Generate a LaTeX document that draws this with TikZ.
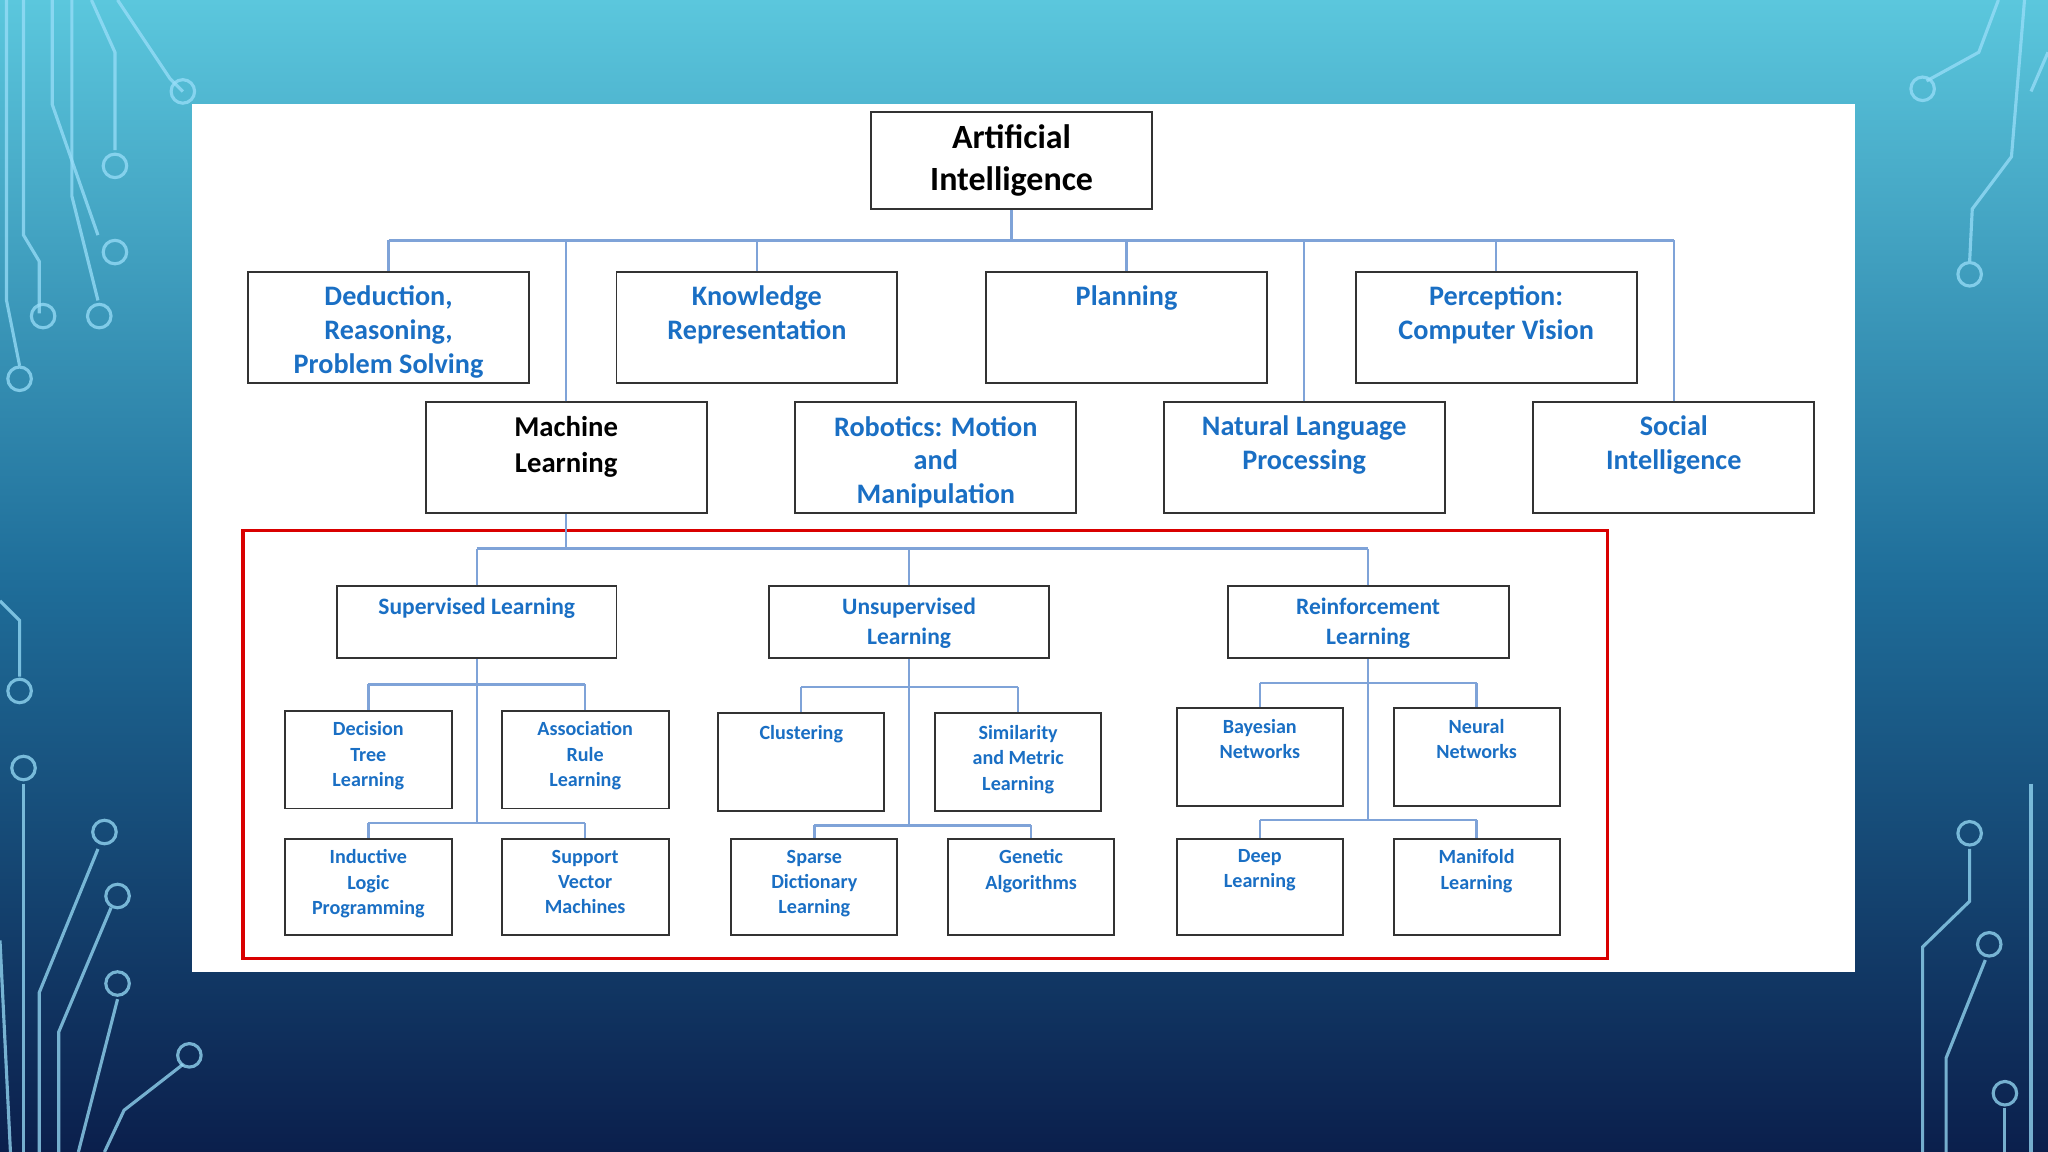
\documentclass[tikz,border=0pt]{standalone}
\usepackage{fontspec}
\setmainfont{Carlito}
\begin{document}
\begin{tikzpicture}[x=0.5pt,y=-0.5pt,
  box/.style={draw=black!80,line width=0.75pt,fill=white,inner sep=0pt},
  con/.style={draw=lnc,line width=0.9pt},
  ckt/.style={draw=cyan!40!white,line width=1.2pt,opacity=0.75},
  dot/.style={ckt,fill=none},
  tA/.style={font=\bfseries\fontsize{13}{16}\selectfont,align=center,inner sep=0pt},
  tB/.style={font=\bfseries\fontsize{10.8}{13}\selectfont,align=center,inner sep=0pt,text=txb},
  tM/.style={font=\bfseries\fontsize{11}{14}\selectfont,align=center,inner sep=0pt},
  tC/.style={font=\bfseries\fontsize{9}{11.5}\selectfont,align=center,inner sep=0pt,text=txb},
  tD/.style={font=\bfseries\fontsize{7.7}{9.6}\selectfont,align=center,inner sep=0pt,text=txb}]
\definecolor{bgtop}{HTML}{5BC7DD}
\definecolor{bgmid}{HTML}{1F6E9A}
\definecolor{bgbot}{HTML}{0B1F4C}
\definecolor{txb}{HTML}{1A6FC4}
\definecolor{lnc}{HTML}{7FA3D8}
\useasboundingbox (0,0) rectangle (1568,882);
\shade[top color=bgtop,bottom color=bgbot,middle color=bgmid] (0,0) rectangle (1568,882);
% circuit decorations left
\draw[ckt] (18,0)--(18,180)--(30,200)--(30,240);
\draw[ckt] (40,0)--(40,80)--(75,180);
\draw[ckt] (70,0)--(88,40)--(88,115);
\draw[ckt] (90,0)--(130,60)--(140,70);
\draw[ckt] (5,0)--(5,230)--(15,280);
\draw[ckt] (55,0)--(55,150)--(75,230);
\draw[ckt] (0,460)--(15,475)--(15,518);
\draw[ckt] (18,600)--(18,882);
\draw[ckt] (30,882)--(30,760)--(75,650);
\draw[ckt] (45,882)--(45,790)--(85,695);
\draw[ckt] (60,882)--(90,765);
\draw[ckt] (80,882)--(95,850)--(140,815);
\draw[ckt] (0,720)--(8,882);
\foreach \p in {(140,70),(88,127),(88,193),(76,242),(15,290),(33,242),(15,529),(18,588),(80,637),(90,686),(90,753),(145,808)} \draw[dot] \p circle (9);
% right
\draw[ckt] (1530,0)--(1515,40)--(1475,62);
\draw[ckt] (1550,0)--(1540,120)--(1510,160)--(1508,200);
\draw[ckt] (1568,40)--(1555,70);
\draw[ckt] (1508,650)--(1508,690)--(1472,725)--(1472,882);
\draw[ckt] (1520,735)--(1490,810)--(1490,882);
\draw[ckt] (1535,848)--(1535,882);
\draw[ckt] (1555,600)--(1555,882);
\foreach \p in {(1472,68),(1508,210),(1508,638),(1523,723),(1535,837)} \draw[dot] \p circle (9);
% panel
\fill[white] (147,80) rectangle (1420,744);
\draw[red!85!black,line width=1.2pt] (186,406) rectangle (1231,734);

\newcommand\bx[6]{\node[box,minimum width=#4*0.5pt,minimum height=#5*0.5pt] (#1) at (#2,#3) {};}
% level 0
\bx{ai}{774.5}{123}{215}{74}{}
\node[tA] (ait) at (ai) {Artificial\\Intelligence};
% row1
\bx{ded}{297.5}{250.5}{215}{85}{}
\bx{kr}{579.5}{250.5}{215}{85}{}
\bx{pl}{862.5}{250.5}{215}{85}{}
\bx{pc}{1145.5}{250.5}{215}{85}{}
\bx{ml}{433.5}{350.5}{215}{85}{}
\bx{rob}{716.5}{350.5}{215}{85}{}
\bx{nlp}{998.5}{350.5}{215}{85}{}
\bx{soc}{1281.5}{350.5}{215}{85}{}
\node[tB,anchor=north] (dedt) at ([yshift=-5.5pt]ded.north) {Deduction,\\Reasoning,\\Problem Solving};
\node[tB,anchor=north] (krt) at ([yshift=-5.5pt]kr.north) {Knowledge\\Representation};
\node[tB,anchor=north] (plt) at ([yshift=-5.5pt]pl.north) {Planning};
\node[tB,anchor=north] (pct) at ([yshift=-5.5pt]pc.north) {Perception:\\Computer Vision};
\node[tM,anchor=north] (mlt) at ([yshift=-5.5pt]ml.north) {Machine\\Learning};
\node[tB,anchor=north] (robt) at ([yshift=-5.5pt]rob.north) {Robotics: Motion\\and\\Manipulation};
\node[tB,anchor=north] (nlpt) at ([yshift=-5.5pt]nlp.north) {Natural Language\\Processing};
\node[tB,anchor=north] (soct) at ([yshift=-5.5pt]soc.north) {Social\\Intelligence};
\coordinate (b0) at (774.5,184);
\draw[con] (ai.south)--(b0);
\draw[con] (297.5,184)--(1281.5,184);
\foreach \n in {ded,kr,pl,pc,ml,nlp,soc} \draw[con] (\n.north)--(\n.north|-b0);
% ML subtree
\bx{sup}{365}{476.5}{214}{55}{}
\bx{uns}{696}{476.5}{214}{55}{}
\bx{rei}{1047.5}{476.5}{215}{55}{}
\node[tC,anchor=north] (supt) at ([yshift=-4.5pt]sup.north) {Supervised Learning};
\node[tC,anchor=north] (unst) at ([yshift=-4.5pt]uns.north) {Unsupervised\\Learning};
\node[tC,anchor=north] (reit) at ([yshift=-4.5pt]rei.north) {Reinforcement\\Learning};
\coordinate (b1) at (433.5,420);
\draw[con] (ml.south)--(b1);
\draw[con] (365,420)--(1047.5,420);
\foreach \n in {sup,uns,rei} \draw[con] (\n.north)--(\n.north|-b1);
% leaves
\bx{dt}{282}{581.5}{128}{75}{}
\bx{ar}{448}{581.5}{128}{75}{}
\bx{ilp}{282}{679}{128}{74}{}
\bx{svm}{448}{679}{128}{74}{}
\bx{clu}{613.5}{583.5}{127}{75}{}
\bx{sim}{779.5}{583.5}{127}{75}{}
\bx{sdl}{623.5}{679}{127}{74}{}
\bx{gen}{789.5}{679}{127}{74}{}
\bx{bay}{964.5}{579.5}{127}{75}{}
\bx{neu}{1130.5}{579.5}{127}{75}{}
\bx{dee}{964.5}{679}{127}{74}{}
\bx{man}{1130.5}{679}{127}{74}{}
\node[tD,anchor=north] at ([yshift=-4.5pt]dt.north) {Decision\\Tree\\Learning};
\node[tD,anchor=north] at ([yshift=-4.5pt]ar.north) {Association\\Rule\\Learning};
\node[tD,anchor=north] at ([yshift=-4.5pt]ilp.north) {Inductive\\Logic\\Programming};
\node[tD,anchor=north] at ([yshift=-4.5pt]svm.north) {Support\\Vector\\Machines};
\node[tD,anchor=north] at ([yshift=-5pt]clu.north) {Clustering};
\node[tD,anchor=north] at ([yshift=-5pt]sim.north) {Similarity\\and Metric\\Learning};
\node[tD,anchor=north] at ([yshift=-4.5pt]sdl.north) {Sparse\\Dictionary\\Learning};
\node[tD,anchor=north] at ([yshift=-4.5pt]gen.north) {Genetic\\Algorithms};
\node[tD,anchor=north] at ([yshift=-4.5pt]bay.north) {Bayesian\\Networks};
\node[tD,anchor=north] at ([yshift=-4.5pt]neu.north) {Neural\\Networks};
\node[tD,anchor=north] at ([yshift=-4.5pt]dee.north) {Deep\\Learning};
\node[tD,anchor=north] at ([yshift=-4.5pt]man.north) {Manifold\\Learning};
% supervised connectors
\coordinate (s1) at (365,524); \coordinate (s2) at (365,630);
\draw[con] (sup.south)--(s2);
\draw[con] (dt.north|-s1)--(ar.north|-s1); \draw[con] (dt.north)--(dt.north|-s1); \draw[con] (ar.north)--(ar.north|-s1);
\draw[con] (ilp.north|-s2)--(svm.north|-s2); \draw[con] (ilp.north)--(ilp.north|-s2); \draw[con] (svm.north)--(svm.north|-s2);
% unsupervised
\coordinate (u1) at (696,526); \coordinate (u2) at (696,632);
\draw[con] (uns.south)--(u2);
\draw[con] (clu.north|-u1)--(sim.north|-u1); \draw[con] (clu.north)--(clu.north|-u1); \draw[con] (sim.north)--(sim.north|-u1);
\draw[con] (sdl.north|-u2)--(gen.north|-u2); \draw[con] (sdl.north)--(sdl.north|-u2); \draw[con] (gen.north)--(gen.north|-u2);
% reinforcement
\coordinate (r1) at (1047.5,523); \coordinate (r2) at (1047.5,628);
\draw[con] (rei.south)--(r2);
\draw[con] (bay.north|-r1)--(neu.north|-r1); \draw[con] (bay.north)--(bay.north|-r1); \draw[con] (neu.north)--(neu.north|-r1);
\draw[con] (dee.north|-r2)--(man.north|-r2); \draw[con] (dee.north)--(dee.north|-r2); \draw[con] (man.north)--(man.north|-r2);
\end{tikzpicture}
\end{document}
